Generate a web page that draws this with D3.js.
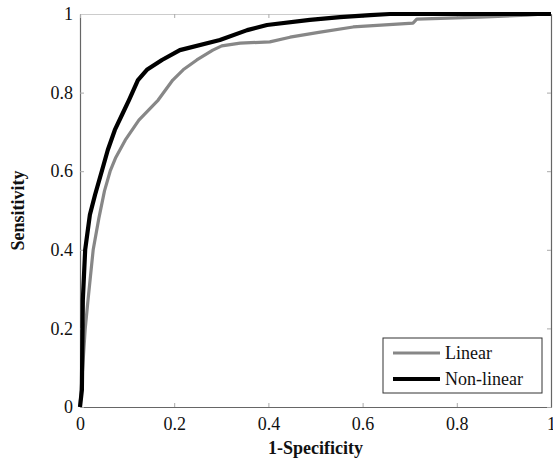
<!DOCTYPE html>
<html>
<head>
<meta charset="utf-8">
<style>
  body { margin: 0; background: #fff; }
</style>
<script src="https://d3js.org/d3.v7.min.js"></script>
</head>
<body>
<svg id="chart" width="553" height="461"></svg>
<script>
// ROC curves (x = 1-specificity, y = sensitivity)
const linearFpr = [0, 0.004, 0.011, 0.017, 0.028, 0.04, 0.052, 0.064, 0.076, 0.096, 0.125, 0.166, 0.197, 0.219, 0.248, 0.282, 0.301, 0.34, 0.403, 0.446, 0.51, 0.58, 0.707, 0.715, 0.849, 0.949, 0.987, 1];
const linearTpr = [0, 0.069, 0.198, 0.272, 0.40, 0.48, 0.55, 0.60, 0.635, 0.679, 0.730, 0.781, 0.832, 0.858, 0.883, 0.908, 0.919, 0.926, 0.929, 0.941, 0.954, 0.967, 0.977, 0.987, 0.992, 0.997, 1, 1];

const nonlinFpr = [0, 0.004, 0.006, 0.011, 0.021, 0.032, 0.047, 0.059, 0.074, 0.089, 0.104, 0.123, 0.142, 0.174, 0.212, 0.297, 0.355, 0.397, 0.488, 0.552, 0.616, 0.658, 1];
const nonlinTpr = [0, 0.043, 0.272, 0.40, 0.489, 0.54, 0.603, 0.654, 0.705, 0.743, 0.781, 0.832, 0.858, 0.883, 0.908, 0.934, 0.959, 0.972, 0.985, 0.992, 0.997, 1, 1];

const tickValues = [0, 0.2, 0.4, 0.6, 0.8, 1];
const tickLabels = ["0", "0.2", "0.4", "0.6", "0.8", "1"];
const seriesNames = ["Linear", "Non-linear"];
const seriesColors = ["#878787", "#000000"];

const FONT = "Liberation Serif, Times New Roman, Times, DejaVu Serif, serif";

const svg = d3.select("#chart").attr("font-family", FONT);
const plotL = 80, plotR = 551, plotT = 14, plotB = 407;

const x = d3.scaleLinear().domain([0, 1]).range([plotL, plotR]);
const y = d3.scaleLinear().domain([0, 1]).range([plotB, plotT]);

const fmt = (d) => tickLabels[tickValues.indexOf(d)];

// frame + ticks
function styleAxis(g) {
  g.attr("font-family", FONT).attr("font-size", 18);
  g.select(".domain").attr("stroke", "#666").attr("stroke-width", 1.2);
  g.selectAll(".tick line").attr("stroke", "#aaa");
  g.selectAll("text").attr("fill", "#111");
}

svg.append("g").attr("transform", `translate(0,${plotB})`)
  .call(d3.axisBottom(x).tickValues(tickValues).tickFormat(fmt).tickSize(-4).tickSizeOuter(0).tickPadding(10))
  .call(styleAxis);
svg.append("g").attr("transform", `translate(${plotL},0)`)
  .call(d3.axisLeft(y).tickValues(tickValues).tickFormat(fmt).tickSize(-4).tickSizeOuter(0).tickPadding(7))
  .call(styleAxis);
svg.append("g").attr("transform", `translate(0,${plotT})`)
  .call(d3.axisTop(x).tickValues(tickValues).tickFormat("").tickSize(-4).tickSizeOuter(0))
  .call(styleAxis)
  .call(g => g.select(".domain").attr("stroke", "#ccc"));
svg.append("g").attr("transform", `translate(${plotR},0)`)
  .call(d3.axisRight(y).tickValues(tickValues).tickFormat("").tickSize(-4).tickSizeOuter(0))
  .call(styleAxis);

// curves
const line = d3.line().x(d => x(d[0])).y(d => y(d[1]));
const linearPts = linearFpr.map((v, i) => [v, linearTpr[i]]);
const nonlinPts = nonlinFpr.map((v, i) => [v, nonlinTpr[i]]);

svg.append("path").datum(linearPts).attr("d", line)
  .attr("fill", "none").attr("stroke", seriesColors[0]).attr("stroke-width", 3.2)
  .attr("stroke-linejoin", "round");
svg.append("path").datum(nonlinPts).attr("d", line)
  .attr("fill", "none").attr("stroke", seriesColors[1]).attr("stroke-width", 4.2)
  .attr("stroke-linejoin", "round");

// axis titles
svg.append("text").attr("x", (plotL + plotR) / 2).attr("y", 454)
  .attr("text-anchor", "middle").attr("font-size", 18).attr("font-weight", "bold")
  .attr("fill", "#111").text("1-Specificity");
svg.append("text").attr("transform", `translate(24,${(plotT + plotB) / 2}) rotate(-90)`)
  .attr("text-anchor", "middle").attr("font-size", 18).attr("font-weight", "bold")
  .attr("fill", "#111").text("Sensitivity");

// legend
const lg = svg.append("g").attr("transform", "translate(383,338)");
lg.append("rect").attr("width", 159).attr("height", 55)
  .attr("fill", "#fff").attr("stroke", "#333").attr("stroke-width", 1);
seriesNames.forEach((name, i) => {
  const yy = 15 + i * 26;
  lg.append("line").attr("x1", 10).attr("x2", 57).attr("y1", yy).attr("y2", yy)
    .attr("stroke", seriesColors[i]).attr("stroke-width", i ? 4.2 : 3.2);
  lg.append("text").attr("x", 62).attr("y", yy + 6).attr("font-size", 18)
    .attr("fill", "#111").text(name);
});
</script>
</body>
</html>
